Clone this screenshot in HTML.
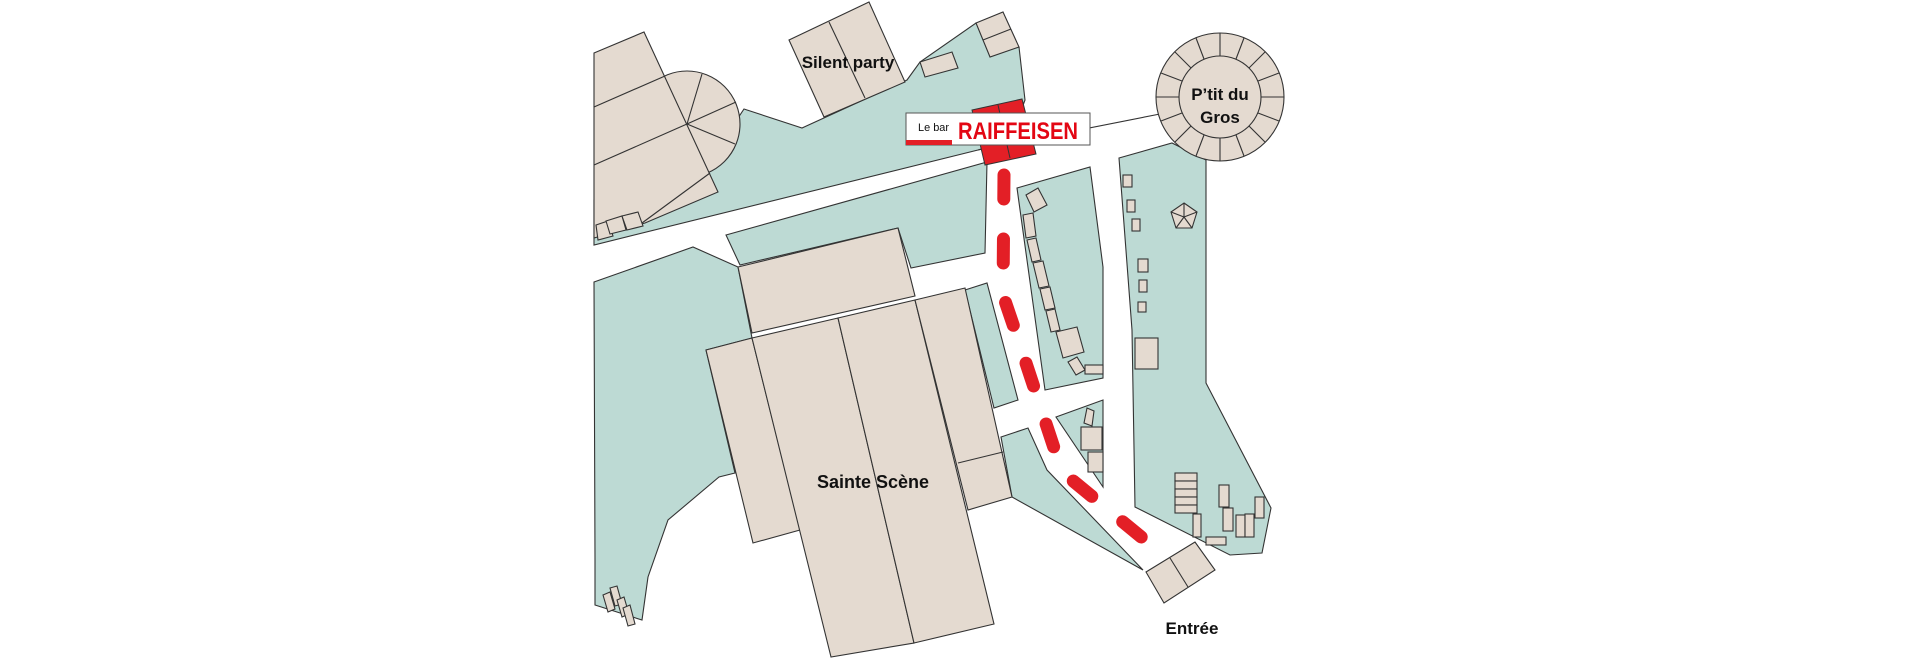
<!DOCTYPE html>
<html><head><meta charset="utf-8"><style>
html,body{margin:0;padding:0;background:#fff;}
svg{display:block;}
text{font-family:"Liberation Sans",sans-serif;font-weight:bold;fill:#111;}
</style></head><body>
<svg width="1920" height="658" viewBox="0 0 1920 658" xmlns="http://www.w3.org/2000/svg">
<g stroke="#333" stroke-width="1.1" stroke-linejoin="miter">
<!-- teal areas -->
<g fill="#bddad4">
<polygon points="594,245 594,200 700,175 744,109 802,128 907,80 920,62 976,23 1019,47 1025,100 1010,140 978,150"/>
<polygon points="726,235 987,162 985,253 911,268 898,228 740,265"/>
<polygon points="594,282 693,247 738,267 752,338 706,350 735,473 719,477 668,520 648,577 642,620 595,605 595,560"/>
<polygon points="965,290 987,283 1018,400 994,408"/>
<polygon points="1001,437 1028,428 1047,470 1143,570 1012,497"/>
<polygon points="1017,188 1090,167 1103,267 1103,378 1045,390"/>
<polygon points="1056,417 1103,400 1103,487"/>
<polygon points="1119,158 1172,143 1206,160 1206,383 1271,508 1262,553 1230,555 1135,507 1132,330"/>
</g>
<line x1="978" y1="150" x2="1160" y2="114"/>
<!-- buildings -->
<g fill="#e4dad0">
<circle cx="687" cy="124" r="53"/>
<polygon points="594,53 644,32 718,192 645,223 594,238"/>
<line x1="594" y1="107" x2="665" y2="76"/>
<line x1="594" y1="165" x2="687" y2="124"/>
<line x1="642" y1="223" x2="710" y2="173"/>
<line x1="687" y1="124" x2="702" y2="74"/>
<line x1="687" y1="124" x2="736" y2="102"/>
<line x1="687" y1="124" x2="735" y2="144"/>
<polygon points="596,225 608,221 613,236 598,240"/>
<polygon points="606,221 622,216 626,230 610,234"/>
<polygon points="622,216 638,212 643,226 627,230"/>
<polygon points="789,40 869,2 905,82 824,117"/>
<line x1="829" y1="22" x2="865" y2="98"/>
<polygon points="920,62 952,52 958,68 925,77"/>
<polygon points="976,23 1003,12 1019,47 990,57"/>
<line x1="983" y1="40" x2="1011" y2="29"/>
<!-- Sainte Scene -->
<polygon points="738,267 898,228 915,296 752,333"/>
<polygon points="706,350 752,338 800,530 753,543"/>
<polygon points="752,338 838,318 914,643 831,657"/>
<polygon points="838,318 915,300 994,624 914,643"/>
<polygon points="915,300 965,288 1012,497 968,510"/>
<line x1="958" y1="463" x2="1003" y2="452"/>
<!-- entrance -->
<polygon points="1146,572 1195,542 1215,570 1164,603"/>
<line x1="1170" y1="558" x2="1188" y2="587"/>
<!-- small boxes R1 -->
<polygon points="1026,195 1038,188 1047,205 1034,212"/>
<polygon points="1023,215 1033,213 1036,236 1026,238"/>
<polygon points="1027,240 1036,238 1041,260 1032,262"/>
<polygon points="1033,263 1043,261 1049,286 1039,288"/>
<polygon points="1040,289 1050,287 1055,308 1045,310"/>
<polygon points="1046,311 1055,309 1060,330 1051,332"/>
<polygon points="1056,332 1077,327 1084,352 1063,358"/>
<polygon points="1068,362 1077,357 1085,370 1076,375"/>
<rect x="1085" y="365" width="18" height="9"/>
<polygon points="1087,408 1094,411 1092,426 1084,423"/>
<rect x="1081" y="427" width="21" height="23"/>
<rect x="1088" y="452" width="15" height="20"/>
<!-- right teal boxes -->
<rect x="1123" y="175" width="9" height="12"/>
<rect x="1127" y="200" width="8" height="12"/>
<rect x="1132" y="219" width="8" height="12"/>
<rect x="1138" y="259" width="10" height="13"/>
<rect x="1139" y="280" width="8" height="12"/>
<rect x="1138" y="302" width="8" height="10"/>
<rect x="1135" y="338" width="23" height="31"/>
<polygon points="1184,203 1197,212 1192,228 1176,228 1171,212"/>
<line x1="1184" y1="217" x2="1184" y2="203"/>
<line x1="1184" y1="217" x2="1197" y2="212"/>
<line x1="1184" y1="217" x2="1192" y2="228"/>
<line x1="1184" y1="217" x2="1176" y2="228"/>
<line x1="1184" y1="217" x2="1171" y2="212"/>
<rect x="1175" y="473" width="22" height="8"/>
<rect x="1175" y="481" width="22" height="8"/>
<rect x="1175" y="489" width="22" height="8"/>
<rect x="1175" y="497" width="22" height="8"/>
<rect x="1175" y="505" width="22" height="8"/>
<rect x="1193" y="514" width="8" height="23"/>
<rect x="1219" y="485" width="10" height="22"/>
<rect x="1223" y="508" width="10" height="23"/>
<rect x="1236" y="515" width="9" height="22"/>
<rect x="1245" y="514" width="9" height="23"/>
<rect x="1255" y="497" width="9" height="21"/>
<rect x="1206" y="537" width="20" height="8"/>
<!-- bottom-left boxes -->
<polygon points="603,595 610,592 615,609 608,612"/>
<polygon points="610,588 617,586 622,604 615,606"/>
<polygon points="617,600 624,597 629,614 622,617"/>
<polygon points="623,608 630,605 635,624 628,626"/>
<!-- P'tit du Gros -->
<circle cx="1220" cy="97" r="64"/>
<circle cx="1220" cy="97" r="41"/>
</g>
<g id="rad"></g>
</g>
<g stroke="#333" stroke-width="1.1">
<line x1="1261" y1="97" x2="1284" y2="97"/><line x1="1258" y1="113" x2="1279" y2="121"/><line x1="1249" y1="126" x2="1265" y2="142"/><line x1="1236" y1="135" x2="1244" y2="156"/><line x1="1220" y1="138" x2="1220" y2="161"/><line x1="1204" y1="135" x2="1196" y2="156"/><line x1="1191" y1="126" x2="1175" y2="142"/><line x1="1182" y1="113" x2="1161" y2="121"/><line x1="1179" y1="97" x2="1156" y2="97"/><line x1="1182" y1="81" x2="1161" y2="73"/><line x1="1191" y1="68" x2="1175" y2="52"/><line x1="1204" y1="59" x2="1196" y2="38"/><line x1="1220" y1="56" x2="1220" y2="33"/><line x1="1236" y1="59" x2="1244" y2="38"/><line x1="1249" y1="68" x2="1265" y2="52"/><line x1="1258" y1="81" x2="1279" y2="73"/>
</g>
<!-- Raiffeisen building -->
<polygon points="972,110 1022,99 1036,154 985,165" fill="#e31f26" stroke="#333" stroke-width="1"/>
<line x1="998" y1="105" x2="1010" y2="158" stroke="#333" stroke-width="1"/>
<!-- dashed path -->
<polyline points="1004,175 1003,295 1020,345 1058,460 1072,480 1157,550" fill="none" stroke="#e31f26" stroke-width="13" stroke-linecap="round" stroke-dasharray="24 40"/>
<!-- label -->
<rect x="906" y="113" width="184" height="32" fill="#fff" stroke="#555" stroke-width="1"/>
<rect x="906" y="140" width="46" height="5" fill="#e31f26"/>
<text x="918" y="131" font-size="11" style="font-weight:normal" textLength="31" lengthAdjust="spacingAndGlyphs">Le bar</text>
<text x="958" y="139" font-size="24" style="fill:#e30613" textLength="120" lengthAdjust="spacingAndGlyphs">RAIFFEISEN</text>
<!-- labels -->
<text x="848" y="68" font-size="17" text-anchor="middle">Silent party</text>
<text x="1220" y="100" font-size="17" text-anchor="middle">P’tit du</text>
<text x="1220" y="123" font-size="17" text-anchor="middle">Gros</text>
<text x="873" y="488" font-size="18" text-anchor="middle">Sainte Scène</text>
<text x="1192" y="634" font-size="17" text-anchor="middle">Entrée</text>
</svg>
</body></html>
